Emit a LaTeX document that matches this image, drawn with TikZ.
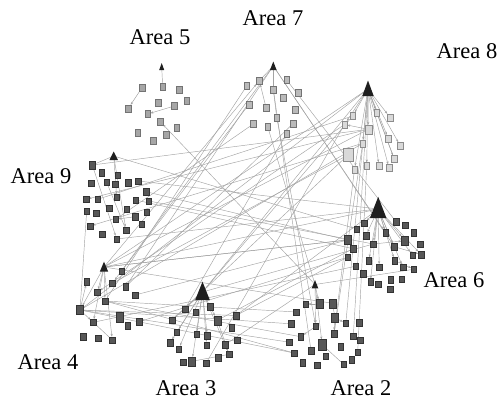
\documentclass[tikz,border=0pt]{standalone}
\usepackage{fontspec}
\setmainfont{Liberation Serif}
\usetikzlibrary{arrows.meta,backgrounds}
\begin{document}
\begin{tikzpicture}[x=1pt,y=-1pt,
 sqd/.style={draw=black!80,fill=black!66,line width=0.3pt,minimum width=5.5pt,minimum height=6.5pt,inner sep=0pt,outer sep=0pt},
 sqm/.style={draw=black!55,fill=black!35,line width=0.3pt,minimum width=5.5pt,minimum height=7pt,inner sep=0pt,outer sep=0pt},
 sqv/.style={draw=black!45,fill=black!15,line width=0.3pt,minimum width=5.5pt,minimum height=7pt,inner sep=0pt,outer sep=0pt},
 big/.style={minimum width=7pt,minimum height=9pt},
 lnk/.style={draw=black!36,line width=0.45pt},
 arw/.style={lnk,-{Stealth[length=3pt,width=2.2pt]}},
 hub/.style={fill=black!88},
 lbl/.style={font=\fontsize{22.5}{26}\selectfont,inner sep=0pt}]
\useasboundingbox (0,0) rectangle (499,399);

% labels
\node[lbl] (l5) at (160,37) {Area 5};
\node[lbl] (l7) at (273,18.5) {Area 7};
\node[lbl] (l8) at (467,51) {Area 8};
\node[lbl] (l9) at (41,176) {Area 9};
\node[lbl] (l4) at (48,362) {Area 4};
\node[lbl] (l3) at (186,388) {Area 3};
\node[lbl] (l2) at (361,388) {Area 2};
\node[lbl] (l6) at (454,280) {Area 6};

% hubs
\coordinate (h5) at (161.7,67);
\coordinate (h7) at (273.3,66);
\coordinate (h8) at (368,89);
\coordinate (h9) at (113.7,156);
\coordinate (h6) at (378.2,209);
\coordinate (h4) at (104,267);
\coordinate (h3) at (202.5,292);
\coordinate (h2) at (315,284.5);

% Area 5
\foreach \n/\x/\y in {1/142.3/87.3,2/162.7/86.7,3/179.3/90,4/186.7/101,5/128.3/108.3,6/158.3/102.7,7/174.3/106,8/147.7/114,9/160.3/121.7,10/176.7/127.7,11/166/135,12/137.7/132.3,13/153.3/141}
  \node[sqm] (q5\n) at (\x,\y) {};
% Area 7
\foreach \n/\x/\y in {1/246.7/86,2/259.3/80.7,3/273.3/89.3,4/286.7/80,5/298.3/92.7,6/283.3/97.3,7/249/104.3,8/266/107.3,9/295/109.3,10/276.7/117.3,11/253.3/124,12/267.7/126.7,13/293.3/123.3,14/286.7/133.3}
  \node[sqm,fill=black!27] (q7\n) at (\x,\y) {};
% Area 8
\foreach \n/\x/\y in {1/352.7/116,2/344.5/124.5,3/376.7/112.7,4/390/117.3,6/362.7/143.3,7/388.3/138.3,8/400.3/145.7,10/394.3/159,11/354.5/169.5,12/366.7/166,13/379/165.7,14/389/167.9}
  \node[sqv] (q8\n) at (\x,\y) {};
\node[sqv,minimum width=7pt,minimum height=9pt] (q85) at (368.3,129.3) {};
\node[sqv,minimum width=9.5pt,minimum height=13pt] (q89) at (348,155) {};
% Area 9
\foreach \n/\x/\y in {2/101.7/172.7,3/117.7/175,4/91/183.3,5/106.7/182.3,6/115/184,7/128.3/182.7,8/138.3/181,9/146/191.7,10/86/199.3,11/97.7/199.3,12/116.7/197.3,13/135.7/200,14/148.7/201,15/86.7/211,16/96/213.3,17/109/208.3,18/126.7/209,19/146.7/212.3,20/135/216.7,21/115.7/219.3,22/141.7/224.3,23/90/226,24/126/230,25/102.3/234.3,26/116.7/239}
  \node[sqd] (q9\n) at (\x,\y) {};
\node[sqd,minimum width=6.5pt,minimum height=8pt] (q91) at (92.3,165) {};
% Area 4
\foreach \n/\x/\y in {1/121.7/271,2/86.7/281.7,3/112.3/283.3,4/125.7/286.7,5/97.3/292.3,6/135/295,7/105/301,10/93.3/322.3,11/139/321.7,12/127.7/325.7,13/83.3/336.7,14/98.3/338.3,15/112.3/340}
  \node[sqd] (q4\n) at (\x,\y) {};
\node[sqd,big] (q48) at (80,310) {};
\node[sqd,big,minimum height=10pt] (q49) at (120,317.5) {};
% Area 3
\foreach \n/\x/\y in {1/185/309,2/195.7/312.3,3/210/306.5,4/172/320,6/236/315.5,7/176.7/332.3,8/196.7/334.3,9/207.3/335.7,10/231.7/327.7,11/170/342.7,12/206.7/345,13/225/344.7,14/237.3/340,15/178.7/349,16/229.2/354.3,17/183/362,19/206/363.3,20/218/357.5}
  \node[sqd] (q3\n) at (\x,\y) {};
\node[sqd,big] (q35) at (217.3,320.3) {};
\node[sqd,big] (q318) at (192,361.3) {};
% Area 2
\foreach \n/\x/\y in {1/305.5/304,4/296.3/312,6/345.8/323,7/359/322.7,8/291.3/323.8,9/315.8/326.3,10/334/333.6,11/353.3/336.3,12/360/340.3,13/289.2/342.2,14/300.8/336.7,16/340.5/346.7,17/311/350.5,18/294.2/353,19/325.4/356,20/357.7/352,21/351.7/359.6,22/302.7/362.7,23/317/365,24/343.6/364.3}
  \node[sqd] (q2\n) at (\x,\y) {};
\node[sqd,big] (q22) at (319.3,304) {};
\node[sqd,big] (q23) at (332.5,303.3) {};
\node[sqd,big] (q25) at (335,318) {};
\node[sqd,minimum width=7.5pt,minimum height=10.5pt] (q215) at (322.2,344.7) {};
% Area 6
\foreach \n/\x/\y in {1/364/223.3,2/396/221.7,3/405.3/225,4/356.7/229,5/413.7/232.7,6/366/235.5,7/385.5/232.7,10/420/244,11/373.3/244,12/394.3/246.7,13/353/248.7,14/412.5/255,15/421/254.5,16/347.5/257.2,17/368.7/260.5,18/394.7/260.5,19/355.8/266.2,20/379.2/267.3,21/403/267.2,22/413.8/269.3,23/363.3/273.7,24/370.4/281.8,25/378.3/284,26/390.5/279.7,27/401.4/279.3,28/390/289.2}
  \node[sqd] (q6\n) at (\x,\y) {};
\node[sqd,big] (q68) at (347.5,240) {};
\node[sqd,big] (q69) at (405,240.7) {};

\begin{pgfonlayer}{background}
% ---- intra-cluster
\draw[arw] (q51) -- (q55);
\draw[arw] (q57) -- (q58);
\draw[lnk] (q52) -- (h5);
\draw[lnk] (h7) -- (q72);
\draw[lnk] (h7) -- (q73);
\draw[arw] (q78) -- (q72);
\draw[lnk] (q73) -- (q710);
\foreach \t in {1,2,3,4,5,6,7,8,10,11,12,13,14} \draw[arw] (h8) -- (q8\t);
\draw[arw] (q85) -- (q82);
\draw[lnk] (q83) -- (q810);
\draw[lnk] (h9) -- (q91);
\draw[arw] (q91) -- (q926);
\draw[arw] (h9) -- (q912);
\draw[arw] (h9) -- (q924);
\draw[lnk] (q95) -- (q924);
\draw[arw] (q920) -- (q921);
\foreach \t in {5,7,8,10,15} \draw[arw] (h4) -- (q4\t);
\draw[arw] (q48) -- (q42);
\draw[arw] (q48) -- (q410);
\draw[lnk] (q410) -- (q415);
\foreach \t in {1,4,5,7,8,9,11,12,15,16,18} \draw[arw] (h3) -- (q3\t);
\draw[lnk] (q318) -- (q316);
\draw[lnk] (q35) -- (q316);
\foreach \t in {2,9,15} \draw[arw] (h2) -- (q2\t);
\draw[arw] (q22) -- (q21);
\draw[lnk] (q23) -- (q25);
\draw[arw] (q25) -- (q210);
\draw[arw] (q25) -- (q26);
\draw[lnk] (q215) -- (q224);
\draw[arw] (q29) -- (q214);
\foreach \t in {1,6,7,9,11,12,14,15,17,18,20,21,24} \draw[arw] (h6) -- (q6\t);
\draw[arw] (q612) -- (q615);
\draw[arw] (q611) -- (q69);
\draw[arw] (q618) -- (q622);
% ---- inter-cluster
\draw[arw] (h9) -- (q64);
\draw[arw] (q85) -- (q910);
\draw[arw] (q86) -- (q923);
\draw[lnk] (q85) -- (q91);
\draw[arw] (q711) -- (q921);
\draw[lnk] (q77) -- (q41);
\draw[arw] (h4) -- (q72);
\draw[lnk] (q71) -- (q47);
\draw[arw] (h7) -- (q43);
\draw[lnk] (h7) -- (q44);
\draw[arw] (h7) -- (q67);
\draw[lnk] (h7) -- (q612);
\draw[arw] (q710) -- (q29);
\draw[lnk] (q714) -- (q31);
\draw[lnk] (h4) -- (q85);
\draw[arw] (h8) -- (h4);
\draw[lnk] (h4) -- (q68);
\draw[arw] (q68) -- (h4);
\draw[lnk] (h4) -- (h6);
\draw[lnk] (h4) -- (q23);
\draw[lnk] (q48) -- (q36);
\draw[lnk] (q48) -- (q28);
\draw[lnk] (q48) -- (q213);
\draw[lnk] (q48) -- (q218);
\draw[lnk] (q48) -- (q915);
\draw[lnk] (q48) -- (q86);
\draw[lnk] (q47) -- (q214);
\draw[lnk] (q47) -- (q218);
\draw[lnk] (q47) -- (q24);
\draw[arw] (q82) -- (q45);
\draw[lnk] (q89) -- (q34);
\draw[lnk] (q811) -- (q210);
\draw[lnk] (q812) -- (q220);
\draw[lnk] (h8) -- (q26);
\draw[lnk] (h8) -- (q211);
\draw[lnk] (q86) -- (q210);
\draw[arw] (q81) -- (h3);
\draw[lnk] (h8) -- (h3);
\draw[lnk] (h8) -- (q48);
\draw[arw] (h2) -- (q59);
\draw[lnk] (h2) -- (q313);
\draw[lnk] (h2) -- (q712);
\draw[lnk] (h2) -- (q622);
\draw[lnk] (h6) -- (q926);
\draw[lnk] (q35) -- (q613);
\draw[lnk] (h3) -- (q611);
\draw[lnk] (q36) -- (q616);
\draw[lnk] (q68) -- (q46);
\draw[arw] (q616) -- (q411);
\draw[lnk] (q99) -- (q68);
\draw[lnk] (q914) -- (q611);
\draw[lnk] (q98) -- (h6);
\draw[lnk] (q89) -- (q43);
\draw[lnk] (q81) -- (q911);
\draw[lnk] (q73) -- (q217);
\draw[lnk] (q74) -- (q62);
\draw[lnk] (q713) -- (q44);
\draw[lnk] (q82) -- (q319);
\draw[lnk] (h6) -- (q36);
\draw[lnk] (q613) -- (q913);
\draw[lnk] (q619) -- (q410);
\end{pgfonlayer}

% hub triangles
\fill[hub] (161.7,63) -- (164.2,70) -- (159.2,70) -- cycle;
\fill[hub] (273.3,61.5) -- (276.6,70) -- (270,70) -- cycle;
\fill[hub] (368,80.5) -- (373.7,96) -- (362.3,96) -- cycle;
\fill[hub] (113.7,151.5) -- (117.9,160) -- (109.5,160) -- cycle;
\fill[hub] (378.2,196.8) -- (386.5,218.2) -- (369.9,218.2) -- cycle;
\fill[hub] (104,261.7) -- (108.2,271.7) -- (99.8,271.7) -- cycle;
\fill[hub] (202.5,281.7) -- (209.8,300) -- (195.2,300) -- cycle;
\fill[hub] (315,280) -- (318.3,288.3) -- (311.7,288.3) -- cycle;
\end{tikzpicture}
\end{document}
